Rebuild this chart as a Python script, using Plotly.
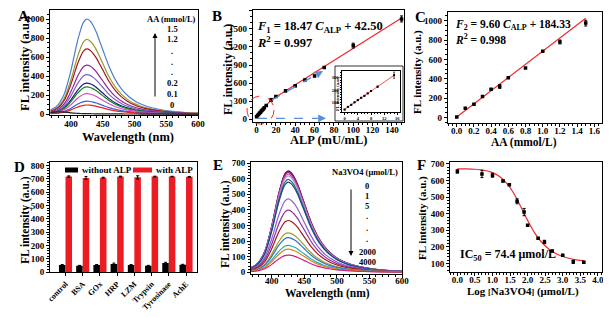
import plotly.graph_objects as go

# page body has an 8px default margin; the figure is laid out in screen pixels
OX, OY = 8, 8
FW, FH = 603, 309
FONT = "Liberation Serif, Times New Roman, serif"

# ---------------- data ----------------
# Panel A / E spectra: normalised band shape
wavelength = [368, 375, 380, 385, 390, 395, 400, 405, 410, 415, 420, 425, 430, 435, 440,
              445, 450, 460, 470, 480, 490, 500, 510, 520, 540, 560, 580, 600]
band_shape = [0.045, 0.07, 0.10, 0.15, 0.22, 0.33, 0.46, 0.61, 0.76, 0.88, 0.97, 1.0, 0.98, 0.93, 0.86,
              0.77, 0.68, 0.50, 0.36, 0.26, 0.19, 0.14, 0.105, 0.08, 0.048, 0.028, 0.016, 0.01]
blank_spectrum = [15, 20, 22, 22, 20, 17, 13, 10, 8, 6, 5, 4, 3.5, 3, 2.5,
                  2, 2, 1.5, 1, 1, 0.5, 0.5, 0, 0, 0, 0, 0, 0]
aa_peaks = [1000, 785, 685, 515, 415, 325, 285, 215, 135, 95]
aa_colors = ["#4a7fd0", "#9a9a2a", "#a01818", "#8a2a9a", "#7d62c4", "#1a1a80",
             "#128a18", "#d848c8", "#3464d0", "#ee2020"]
aa_labels = ["1.5", "1.2", ".", ".", ".", "0.2", "0.1", "0"]

# Panel B
alp_low = [0, 1, 2, 3, 4, 5, 6, 7, 8, 10, 15]
fl_low = [40, 62, 79, 99, 117, 136, 152, 172, 191, 227, 321]
fl_low_err = [3, 3, 3, 3, 3, 3, 3, 3, 4, 5, 25]
alp_high = [20, 30, 40, 50, 60, 70, 100, 150]
fl_high = [378, 472, 555, 652, 718, 858, 1222, 1664]
fl_high_err = [10, 18, 18, 15, 15, 10, 40, 50]
fitB_x = [0, 15, 150]
fitB_y = [42.5, 320, 1680]
fitB_inset_x = [0, 15]
fitB_inset_y = [42.5, 319.55]

# Panel C
aa_conc = [0, 0.1, 0.2, 0.3, 0.4, 0.5, 0.6, 0.8, 1.0, 1.2, 1.5]
fl_aa = [5, 95, 135, 215, 290, 320, 410, 510, 685, 780, 975]
fl_aa_err = [4, 8, 5, 5, 6, 20, 5, 5, 6, 20, 30]
fitC_x = [0, 1.5]
fitC_y = [5, 1025]

# Panel D
enzymes = ["control", "BSA", "GOx", "HRP", "LZM", "Trypsin", "Tyrosinase", "AchE"]
without_alp = [55, 50, 55, 62, 55, 50, 70, 57]
without_alp_err = [3, 2, 3, 7, 3, 2, 5, 3]
with_alp = [718, 708, 710, 718, 712, 718, 718, 716]
with_alp_err = [5, 10, 3, 3, 12, 3, 2, 3]

# Panel E
vo4_peaks = [650, 646, 640, 630, 618, 595, 578, 470, 398, 332, 253, 222, 172, 148, 110]
vo4_colors = ["#1a1a3a", "#b01020", "#7030a0", "#d040c0", "#c888e0", "#108040", "#2040a0",
              "#9060d0", "#9030a0", "#a01818", "#a0a020", "#3070d0", "#20b0b0", "#e08020", "#d02080"]
vo4_labels = ["0", "1", "5", ".", ".", ".", "2000", "4000"]

# Panel F
log_vo4 = [0, 0.7, 1.0, 1.3, 1.48, 1.7, 1.9, 2.0, 2.3, 2.48, 2.7, 3.0, 3.3, 3.6]
fl_vo4 = [655, 640, 632, 598, 575, 475, 410, 330, 252, 230, 175, 150, 110, 108]
fl_vo4_err = [10, 22, 12, 5, 5, 15, 22, 5, 5, 10, 5, 5, 10, 5]
fitF_x = [0, 0.25, 0.5, 0.75, 1.0, 1.2, 1.4, 1.6, 1.8, 2.0, 2.2, 2.4, 2.6, 2.8, 3.0, 3.2, 3.4, 3.6]
fitF_y = [670, 670, 668, 662, 648, 625, 585, 525, 445, 360, 285, 228, 188, 160, 142, 130, 122, 117]


def px(x):
    return (x - OX) / FW


def py(y):
    return 1 - (y - OY) / FH


fig = go.Figure()

# ---- A ----
for pk, col in zip(aa_peaks, aa_colors):
    fig.add_trace(go.Scatter(x=wavelength, y=[pk * s for s in band_shape], mode="lines",
                             line=dict(color=col, width=1.2, shape="spline"),
                             xaxis="x", yaxis="y", showlegend=False))
fig.add_trace(go.Scatter(x=wavelength, y=blank_spectrum, mode="lines",
                         line=dict(color="#222222", width=1.2, shape="spline"),
                         xaxis="x", yaxis="y", showlegend=False))

# ---- B ----
err_style = dict(type="data", color="black", thickness=1, width=1.5)
fig.add_trace(go.Scatter(x=fitB_x, y=fitB_y, mode="lines", line=dict(color="#ee2a2a", width=1.2),
                         xaxis="x2", yaxis="y2", showlegend=False))
fig.add_trace(go.Scatter(x=alp_low + alp_high, y=fl_low + fl_high, mode="markers",
                         marker=dict(symbol="square", size=3.5, color="black"),
                         error_y=dict(array=fl_low_err + fl_high_err, **err_style),
                         xaxis="x2", yaxis="y2", showlegend=False))
# inset
fig.add_trace(go.Scatter(x=fitB_inset_x, y=fitB_inset_y, mode="lines", line=dict(color="#ee2a2a", width=0.8),
                         xaxis="x7", yaxis="y7", showlegend=False))
fig.add_trace(go.Scatter(x=alp_low, y=fl_low, mode="markers",
                         marker=dict(symbol="square", size=2, color="black"),
                         error_y=dict(type="data", array=fl_low_err, color="black", thickness=0.6, width=1),
                         xaxis="x7", yaxis="y7", showlegend=False))

# ---- C ----
fig.add_trace(go.Scatter(x=fitC_x, y=fitC_y, mode="lines", line=dict(color="#ee2a2a", width=1.2),
                         xaxis="x3", yaxis="y3", showlegend=False))
fig.add_trace(go.Scatter(x=aa_conc, y=fl_aa, mode="markers",
                         marker=dict(symbol="square", size=3.5, color="black"),
                         error_y=dict(array=fl_aa_err, **err_style),
                         xaxis="x3", yaxis="y3", showlegend=False))

# ---- D ----
RED = "#ec1c24"
fig.add_trace(go.Bar(x=enzymes, y=without_alp, name="without ALP", marker=dict(color="black", line=dict(width=0)),
                     error_y=dict(type="data", array=without_alp_err, color="black", thickness=1, width=1.5),
                     xaxis="x4", yaxis="y4", showlegend=False))
fig.add_trace(go.Bar(x=enzymes, y=with_alp, name="with ALP", marker=dict(color=RED, line=dict(width=0)),
                     error_y=dict(type="data", array=with_alp_err, color="black", thickness=1, width=1.5),
                     xaxis="x4", yaxis="y4", showlegend=False))

# ---- E ----
for pk, col in zip(vo4_peaks, vo4_colors):
    fig.add_trace(go.Scatter(x=wavelength, y=[pk * s for s in band_shape], mode="lines",
                             line=dict(color=col, width=1.2, shape="spline"),
                             xaxis="x5", yaxis="y5", showlegend=False))

# ---- F ----
fig.add_trace(go.Scatter(x=fitF_x, y=fitF_y, mode="lines", line=dict(color="#ee2a2a", width=1.2, shape="spline"),
                         xaxis="x6", yaxis="y6", showlegend=False))
fig.add_trace(go.Scatter(x=log_vo4, y=fl_vo4, mode="markers",
                         marker=dict(symbol="square", size=3.5, color="black"),
                         error_y=dict(array=fl_vo4_err, **err_style),
                         xaxis="x6", yaxis="y6", showlegend=False))


def ax(domain, rng, dtick=None, tick0=None, size=9, minor=True, ticklen=3, **kw):
    d = dict(domain=domain, range=rng, showline=True, linecolor="black", linewidth=1, mirror=True,
             ticks="outside", ticklen=ticklen, tickwidth=1, tickcolor="black", showgrid=False, zeroline=False,
             tickfont=dict(family=FONT, size=size, color="black", weight="bold"), fixedrange=True,
             automargin=False)
    if dtick is not None:
        d["dtick"] = dtick
        d["tick0"] = tick0 if tick0 is not None else 0
    if minor:
        d["minor"] = dict(ticks="outside", ticklen=ticklen * 0.6, tickwidth=1, tickcolor="black")
    d.update(kw)
    return d


# domains (screen pixel -> paper)
A_x, A_y = [px(50), px(198)], [py(115), py(10)]
B_x, B_y = [px(252.7), px(404)], [py(122.3), py(10)]
C_x, C_y = [px(447.7), px(601.7)], [py(122.7), py(11.7)]
D_x, D_y = [px(50), px(196.7)], [py(272.3), py(162.3)]
E_x, E_y = [px(251), px(402)], [py(274.3), py(162)]
F_x, F_y = [px(450), px(601.7)], [py(272.3), py(162.3)]
I_x, I_y = [px(342), px(400)], [py(112), py(71)]

fig.update_layout(
    width=FW, height=FH, margin=dict(l=0, r=0, t=0, b=0),
    paper_bgcolor="white", plot_bgcolor="white",
    font=dict(family=FONT, color="black"),
    xaxis=ax(A_x, [367, 600], 50, anchor="y", ticklabelstandoff=-3),
    yaxis=ax(A_y, [-10, 1095], 200, anchor="x"),
    xaxis2=ax(B_x, [-4, 152.5], 20, anchor="y2", ticklabelstandoff=-4),
    yaxis2=ax(B_y, [-50, 1812], 300, anchor="x2"),
    xaxis3=ax(C_x, [-0.105, 1.686], 0.2, anchor="y3", tickformat=".1f", ticklabelstandoff=-4),
    yaxis3=ax(C_y, [-55, 1093], 200, anchor="x3"),
    xaxis4=ax(D_x, [-0.9, 7.62], anchor="y4", minor=False, tickangle=-45, size=8,
              type="category"),
    yaxis4=ax(D_y, [0, 825], 100, anchor="x4"),
    xaxis5=ax(E_x, [368, 600], 50, anchor="y5", ticklabelstandoff=-5),
    yaxis5=ax(E_y, [-13, 707], 100, anchor="x5"),
    xaxis6=ax(F_x, [-0.21, 4.11], 0.5, anchor="y6", tickformat=".1f", ticklabelstandoff=-4),
    yaxis6=ax(F_y, [47, 710], 100, anchor="x6"),
    xaxis7=ax(I_x, [-0.8, 16.8], 4, anchor="y7", size=4.5, ticklen=1.5),
    yaxis7=ax(I_y, [20, 355], 100, anchor="x7", size=4.5, ticklen=1.5),
    barmode="group", bargap=0.24, bargroupgap=0.0,
    showlegend=False,
)

annotations = []


def txt(x, y, text, size=9, angle=0, xanchor="center"):
    annotations.append(dict(x=px(x), y=py(y), xref="paper", yref="paper", text=text, showarrow=False,
                            textangle=angle, xanchor=xanchor, yanchor="middle",
                            font=dict(family=FONT, size=size, color="black", weight="bold")))


# panel letters
for lx, ly, l in [(23, 16.5, "A"), (217, 16.5, "B"), (420, 17, "C"), (19, 167, "D"), (218, 165, "E"), (421, 165, "F")]:
    txt(lx, ly, l, size=15)

# axis titles
txt(25, 64, "FL intensity (a.u.)", 12.5, -90)
txt(127.5, 137, "Wavelength (nm)", 12.5)
txt(228, 70, "FL intensity (a.u.)", 12, -90)
txt(328, 140, "ALP (mU/mL)", 12.5)
txt(418, 72, "FL intensity (a.u.)", 11, -90)
txt(524, 142.5, "AA (mmol/L)", 11.5)
txt(25, 220, "FL intensity (a.u.)", 11.5, -90)
txt(225, 224, "FL intensity (a.u.)", 11.5, -90)
txt(327, 293, "Wavelength (nm)", 11.5)
txt(422, 218, "FL intensity (a.u.)", 11, -90)
txt(523, 291, "Log <span style='font-size:8px'>[</span>Na3VO4<span style='font-size:8px'>]</span> (μmol/L)", 11)
txt(338, 93, "FL intensity (a.u.)", 4.5, -90)

# equations
txt(255, 27.5, "<i>F</i><sub>1</sub> = 18.47 <i>C</i><sub>ALP</sub> + 42.50", 12.5, xanchor="left")
txt(255, 42, "<i>R</i><sup>2</sup> = 0.997", 12.5, xanchor="left")
txt(453, 25, "<i>F</i><sub>2</sub> = 9.60 <i>C</i><sub>ALP</sub> + 184.33", 11.5, xanchor="left")
txt(453, 39.5, "<i>R</i><sup>2</sup> = 0.998", 11.5, xanchor="left")
txt(458, 255, "IC<sub>50</sub> = 74.4 μmol/L", 12, xanchor="left")

# legend text A
txt(171.5, 19, "AA (mmol/L)", 8.5)
for yy, lab in zip([29, 39.5, 51, 62, 72, 83, 94, 105], aa_labels):
    txt(172, yy, lab, 8.5)
# legend text E
txt(365, 172, "Na3VO4 (μmol/L)", 8.5)
for yy, lab in zip([186, 196, 206, 216, 228, 239, 252, 262], vo4_labels):
    txt(367, yy, lab, 8.5)
# legend D
txt(80, 170, "without ALP", 9, xanchor="left")
txt(153.5, 170, "with ALP", 9, xanchor="left")

# arrows
annotations.append(dict(x=px(155), y=py(33), xref="paper", yref="paper", ax=0, ay=65, showarrow=True,
                        arrowhead=2, arrowsize=1, arrowwidth=1, arrowcolor="black", text=""))
annotations.append(dict(x=px(351), y=py(256), xref="paper", yref="paper", ax=0, ay=-68, showarrow=True,
                        arrowhead=2, arrowsize=1, arrowwidth=1, arrowcolor="black", text=""))
# blue arrow heads (B)
BLUE = "#5b8fd6"
annotations.append(dict(x=px(323), y=py(71), xref="paper", yref="paper", ax=-6, ay=3.5, showarrow=True,
                        arrowhead=2, arrowsize=1.2, arrowwidth=1.3, arrowcolor=BLUE, text=""))
annotations.append(dict(x=px(326), y=py(118.3), xref="paper", yref="paper", ax=-6, ay=0, showarrow=True,
                        arrowhead=2, arrowsize=1.2, arrowwidth=1.3, arrowcolor=BLUE, text=""))

shapes = [
    dict(type="line", xref="paper", yref="paper", x0=px(272), y0=py(100), x1=px(321), y1=py(72),
         line=dict(color=BLUE, width=1.3, dash="dash")),
    dict(type="line", xref="paper", yref="paper", x0=px(258), y0=py(118.3), x1=px(324), y1=py(118.3),
         line=dict(color=BLUE, width=1.3, dash="dash")),
    dict(type="circle", xref="paper", yref="paper", x0=px(247), y0=py(124), x1=px(274), y1=py(96),
         line=dict(color="#ee2a2a", width=1, dash="dash")),
    dict(type="rect", xref="paper", yref="paper", x0=px(335), y0=py(121), x1=px(403), y1=py(66),
         line=dict(color="black", width=0.8)),
    # legend boxes for D
    dict(type="rect", xref="paper", yref="paper", x0=px(65), y0=py(172.5), x1=px(78), y1=py(167.5),
         fillcolor="black", line=dict(width=0)),
    dict(type="rect", xref="paper", yref="paper", x0=px(133), y0=py(172.5), x1=px(152), y1=py(167.5),
         fillcolor=RED, line=dict(width=0)),
]

fig.update_layout(annotations=annotations, shapes=shapes)
fig.write_html("out.html")
